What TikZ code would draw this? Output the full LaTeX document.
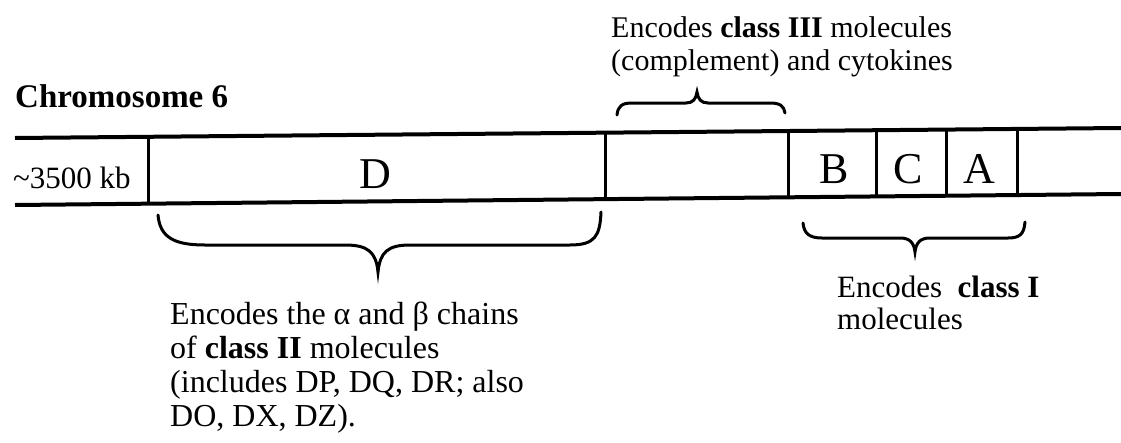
\documentclass[tikz,border=0pt]{standalone}
\usepackage{fontspec}
\setmainfont{Liberation Serif}
\begin{document}
\begin{tikzpicture}[x=1pt,y=-1pt,
  bar/.style={line width=4pt},
  sep/.style={line width=3pt},
  bracket/.style={line width=3pt, line cap=round},
  lbl/.style={inner sep=0pt, anchor=base west, align=left},
  gene/.style={inner sep=0pt, anchor=base, font=\fontsize{44}{48}\selectfont}]
\useasboundingbox (0,0) rectangle (1121,442);

% chromosome band (slightly tilted edges)
\coordinate (tl) at (15,138);  \coordinate (tr) at (1121,128);
\coordinate (bl) at (15,205);  \coordinate (br) at (1121,194);
\draw[bar] (tl) -- (tr);
\draw[bar] (bl) -- (br);
\foreach \x/\yt/\yb/\n in {148/136.8/203.7/s1, 605/132.7/199.1/s2,
    788/131.0/197.3/s3, 876/130.2/196.4/s4, 946/129.6/195.7/s5,
    1017/128.9/195.0/s6}{
  \coordinate (\n t) at (\x,\yt);
  \coordinate (\n b) at (\x,\yb);
  \draw[sep] (\n t) -- (\n b);
}

% labels in the band
\node[lbl, font=\fontsize{31}{36}\selectfont] (kb) at (13,188) {\textasciitilde3500 kb};
\node[gene] (D) at (375,188) {D};
\node[gene] (B) at (834,183) {B};
\node[gene] (C) at (908,183) {C};
\node[gene] (A) at (979,183) {A};

\node[lbl, font=\fontsize{33}{36}\selectfont\bfseries] (title) at (15,107) {Chromosome 6};

% class III brace (above)
\coordinate (c3l) at (617,115);
\coordinate (c3r) at (785,113);
\coordinate (c3m) at (697,92);
\draw[bracket] (c3l) .. controls (618,106) and (622,103) .. (632,103)
  -- (686,103) .. controls (693,103) and (696,99) .. (c3m)
  .. controls (698,99) and (701,103) .. (708,103)
  -- (770,103) .. controls (780,103) and (784,106) .. (c3r);
\node[lbl, font=\fontsize{30}{33}\selectfont] (t3) at (611,70)
  {Encodes \textbf{class III} molecules\\(complement) and cytokines};

% class II brace (below D)
\coordinate (c2l) at (158,215);
\coordinate (c2r) at (601,212);
\coordinate (c2m) at (378,272);
\draw[bracket] (c2l) .. controls (160,238) and (175,245) .. (205,245)
  -- (345,245) .. controls (368,245) and (376,252) .. (c2m)
  .. controls (380,252) and (388,245) .. (410,245)
  -- (570,245) .. controls (595,245) and (600,236) .. (c2r);
\node[lbl, font=\fontsize{32}{34}\selectfont] (t2) at (170,426)
  {Encodes the α and β chains\\of \textbf{class II} molecules\\(includes DP, DQ, DR; also\\DO, DX, DZ).};

% class I brace (below B, C, A)
\coordinate (c1l) at (803,223);
\coordinate (c1r) at (1025,222);
\coordinate (c1m) at (915,252);
\draw[bracket] (c1l) .. controls (804,234) and (810,238) .. (822,238)
  -- (900,238) .. controls (910,238) and (914,243) .. (c1m)
  .. controls (916,243) and (920,238) .. (930,238)
  -- (1008,238) .. controls (1020,238) and (1024,234) .. (c1r);
\node[lbl, font=\fontsize{31}{32}\selectfont] (t1) at (837,329)
  {Encodes\ \ \textbf{class I}\\molecules};
\end{tikzpicture}
\end{document}
